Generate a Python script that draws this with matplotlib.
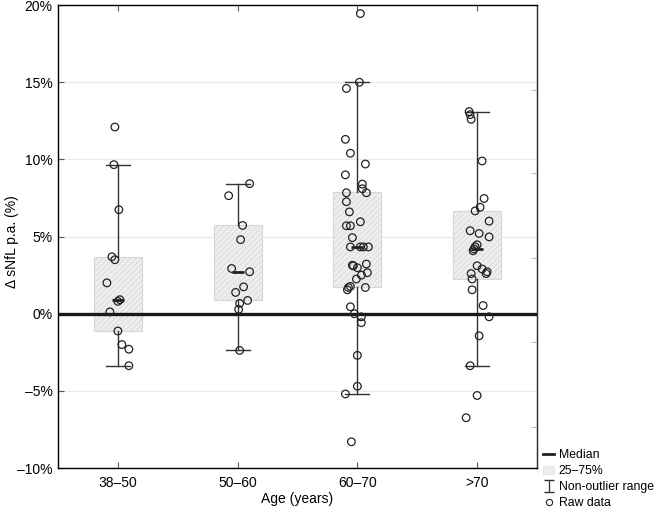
import numpy as np
import matplotlib
matplotlib.use('Agg')
import matplotlib.pyplot as plt
from matplotlib.lines import Line2D
from matplotlib.patches import Patch
from matplotlib.ticker import FuncFormatter

plt.rcParams.update({'font.family': 'Liberation Sans', 'font.size': 9})
plt.rcParams['hatch.color'] = '#e2e2e2'
plt.rcParams['hatch.linewidth'] = 0.5

# Age groups
groups = ['38–50', '50–60', '60–70', '>70']

# Raw data per group (% change per annum) and horizontal jitter (category units)
vals_38_50 = [12.1, 9.66, 6.74, 3.69, 3.5, 2.0, 0.91, 0.8, 0.12, -1.12, -2.0, -2.3, -3.37]
jit_38_50 = [-3, -4, 1, -6, -3, -11, 2, 0, -8, 0, 4, 11, 11]

vals_50_60 = [8.43, 7.65, 5.72, 4.8, 2.93, 2.72, 1.74, 1.38, 0.86, 0.67, 0.28, -2.38]
jit_50_60 = [12, -9, 5, 3, -6, 12, 6, -2, 10, 2, 1, 2]

vals_60_70 = [19.45, 15.0, 14.6, 11.3, 10.4, 9.7, 9.0, 8.4, 8.1, 7.84,
              7.84, 7.26, 6.6, 5.96, 5.7, 5.7, 4.93, 4.33, 4.33, 4.33,
              4.33, 3.14, 3.1, 2.98, 3.22, 2.66, 2.5, 2.25, 1.77, 1.7,
              1.55, 1.7, 0.45, 0.0, -0.2, -0.58, -2.7, -4.7, -5.2, -8.3]
jit_60_70 = [3, 2, -11, -12, -7, 8, -12, 5, 5, 9,
             -11, -11, -8, 3, -11, -7, -5, -7, 3, 6,
             11, -5, -4, 0, 9, 10, 4, -1, -7, -9,
             -10, 8, -7, -3, 4, 4, 0, 0, -12, -6]

vals_over_70 = [13.1, 12.9, 12.6, 9.9, 7.47, 6.66, 6.9, 6.0, 5.38, 5.2,
                4.98, 4.47, 4.34, 4.2, 4.08, 3.11, 2.9, 2.6, 2.6, 2.72,
                2.25, 1.55, 0.53, -0.2, -1.43, -3.37, -5.3, -6.74]
jit_over_70 = [-8, -7, -6, 5, 7, -2, 3, 12, -7, 2,
               12, 0, -2, -3, -4, 0, 5, -6, 9, 10,
               -5, -5, 6, 12, 2, -7, 0, -11]

# Box statistics as shown
q1 = [-1.10, 0.89, 1.73, 2.25]
med = [0.91, 2.72, 4.33, 4.2]
q3 = [3.69, 5.77, 7.86, 6.66]
whislo = [-3.37, -2.38, -5.2, -3.37]
whishi = [9.66, 8.43, 15.0, 13.1]

all_vals = [vals_38_50, vals_50_60, vals_60_70, vals_over_70]
all_jit = [jit_38_50, jit_50_60, jit_60_70, jit_over_70]

fig = plt.figure(figsize=(6.54, 5.11), dpi=100)
ax = fig.add_axes([0.0887, 0.0841, 0.7324, 0.9059])

pos = np.arange(1, len(groups) + 1)

ax.yaxis.grid(True, color='#ebebeb', lw=1)
ax.set_axisbelow(True)

stats = [dict(q1=q1[i], med=med[i], q3=q3[i], whislo=whislo[i], whishi=whishi[i], fliers=[])
         for i in range(len(groups))]
bp = ax.bxp(stats, positions=pos, widths=0.4, capwidths=0.2, patch_artist=True,
            boxprops=dict(facecolor='#eeeeee', edgecolor='#d6d6d6', lw=0.8, hatch='//////'),
            whiskerprops=dict(color='#333333', lw=1),
            capprops=dict(color='#333333', lw=1),
            medianprops=dict(lw=0))
ax.hlines(med, pos - 0.05, pos + 0.05, color='#222222', lw=2, zorder=4)

ax.axhline(0, color='#1a1a1a', lw=2.4, zorder=3)

for p, v, j in zip(pos, all_vals, all_jit):
    ax.scatter(p + np.array(j) / 120.0, v, s=30, facecolors='none', edgecolors='#222222',
               linewidths=0.9, zorder=5)

ax.set_xlim(0.5, 4.5)
ax.set_ylim(-10, 20)
ax.set_xticks(pos)
ax.set_xticklabels(groups)
ax.set_yticks(np.arange(-10, 21, 5))
ax.yaxis.set_major_formatter(FuncFormatter(lambda v, _: f'{v:.0f}%'.replace('-', '–')))
ax.tick_params(axis='both', direction='in', length=4, color='#555555', labelsize=10)
ax.tick_params(axis='x', top=True, pad=6)
ax.tick_params(axis='y', pad=4)
for s in ax.spines.values():
    s.set_color('#333333')
    s.set_linewidth(1)

ax2 = ax.twinx()
ax2.set_ylim(-10, 20)
ax2.set_yticks([14.5, 9.1, 3.6, -1.85, -7.35])
ax2.set_yticklabels([])
ax2.tick_params(direction='in', length=4, color='#bbbbbb')
ax2.spines['right'].set_color('#333333')

ax.set_xlabel('Age (years)', fontsize=10, labelpad=1)
ax.set_ylabel('Δ sNfL p.a. (%)', fontsize=10)
ax.yaxis.set_label_coords(-0.082, 0.49)

eb = ax.errorbar([np.nan], [np.nan], yerr=[1], fmt='none', ecolor='#333333', capsize=3.5, elinewidth=0.9)
handles = [
    Line2D([], [], color='#222222', lw=2),
    Patch(facecolor='#eeeeee', edgecolor='#e0e0e0', lw=0.5),
    eb,
    Line2D([], [], ls='none', marker='o', ms=4.5, mfc='none', mec='#222222', mew=0.8),
]
labels = ['Median', '25–75%', 'Non-outlier range', 'Raw data']
fig.legend(handles, labels, loc='lower left', bbox_to_anchor=(0.828, 0.0), frameon=False,
           fontsize=8.8, handlelength=0.9, handletextpad=0.35, labelspacing=0.32,
           borderaxespad=0.0, borderpad=0.15)

fig.savefig('out.png', dpi=100)
